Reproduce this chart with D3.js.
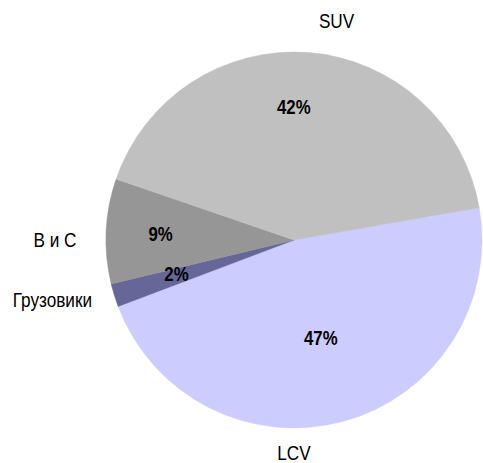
<!DOCTYPE html>
<html>
<head>
<meta charset="utf-8">
<script src="https://cdn.jsdelivr.net/npm/d3@7"></script>
<style>
  body { margin: 0; background: #fff; }
  text { font-family: "Liberation Sans Narrow", "Arial Narrow", "Liberation Sans", sans-serif; }
</style>
</head>
<body>
<div id="chart"></div>
<script>
// data
let categories = ["LCV", "Грузовики", "В и С", "SUV"];
let shares = [47, 2, 9, 42];
let pctLabels = ["47%", "2%", "9%", "42%"];

// look
let colors = ["#ccccff", "#666699", "#969696", "#c0c0c0"];
let width = 483, height = 463;
let cx = 294, cy = 240, r = 188;
let startDeg = 80.1;
// where the percent labels sit, as a fraction of the radius
let pctRadius = [0.54, 0.65, 0.71, 0.71];
// category labels: [angle in degrees, distance from centre]
let catPolar = [[180, 213], [256, 249], [270, 239], [11, 223]];
// no narrow font installed, so squeeze a normal one
let squeeze = 0.8;
let catSqueeze = 0.86;

let svg = d3.select("#chart").append("svg")
  .attr("width", width)
  .attr("height", height);

let g = svg.append("g").attr("transform", "translate(" + cx + "," + cy + ")");

let pie = d3.pie()
  .sort(null)
  .startAngle(startDeg * Math.PI / 180)
  .endAngle(startDeg * Math.PI / 180 + 2 * Math.PI);

let arcs = pie(shares);

let arc = d3.arc().innerRadius(0).outerRadius(r);

g.selectAll("path")
  .data(arcs)
  .enter()
  .append("path")
  .attr("d", arc)
  .style("fill", (d, i) => colors[i])
  .style("stroke", (d, i) => colors[i])
  .style("stroke-width", 0.5);

// percent labels
g.selectAll("text.pct")
  .data(arcs)
  .enter()
  .append("text")
  .attr("class", "pct")
  .attr("transform", function (d, i) {
    let a = (d.startAngle + d.endAngle) / 2;
    if (i == 1) a += 0.02;
    if (i == 3) a -= 0.08;
    let rr = r * pctRadius[i];
    return "translate(" + (Math.sin(a) * rr) + "," + (-Math.cos(a) * rr) + ") scale(" + squeeze + ",1)";
  })
  .attr("text-anchor", "middle")
  .attr("dy", "0.36em")
  .style("font-size", "21px")
  .style("font-weight", "bold")
  .text((d, i) => pctLabels[i]);

// category labels
g.selectAll("text.cat")
  .data(categories)
  .enter()
  .append("text")
  .attr("class", "cat")
  .attr("transform", function (d, i) {
    let a = catPolar[i][0] * Math.PI / 180;
    let rr = catPolar[i][1];
    return "translate(" + (Math.sin(a) * rr) + "," + (-Math.cos(a) * rr) + ") scale(" + catSqueeze + ",1)";
  })
  .attr("text-anchor", "middle")
  .attr("dy", "0.36em")
  .style("font-size", "20px")
  .style("fill", "#000")
  .text(d => d);
</script>
</body>
</html>
